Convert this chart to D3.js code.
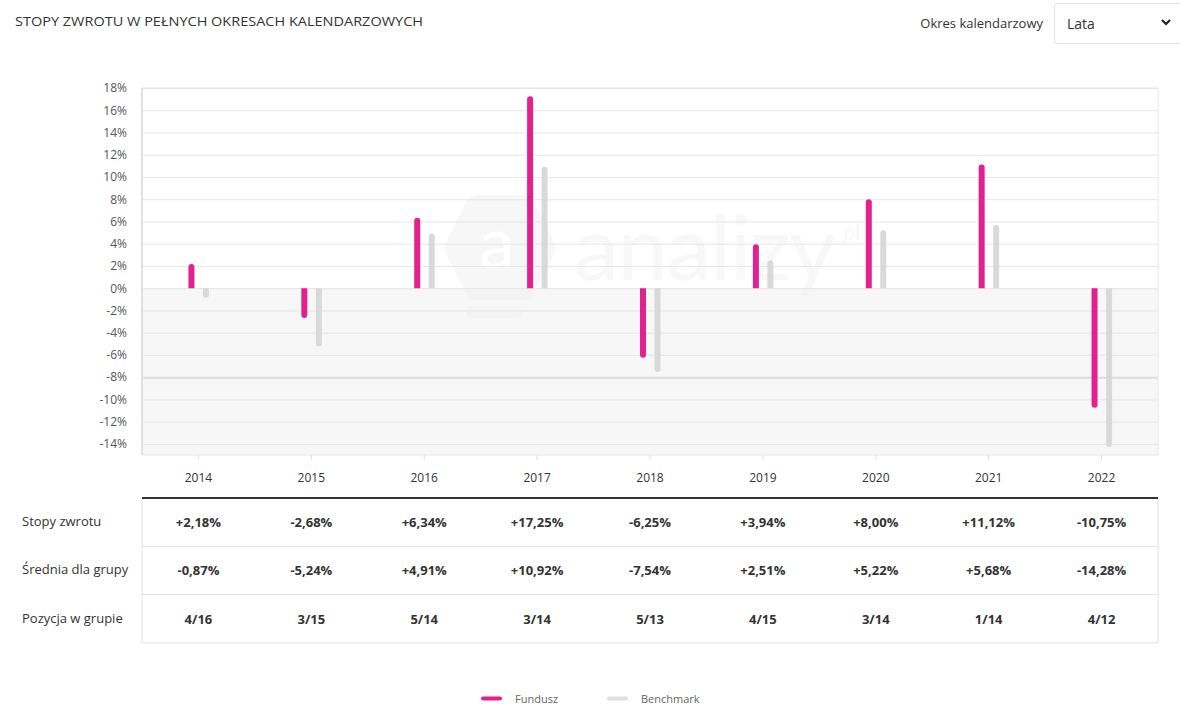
<!DOCTYPE html>
<html><head><meta charset="utf-8">
<script src="https://cdn.jsdelivr.net/npm/d3@7"></script>
<style>
body{margin:0;background:#fff;font-family:"Open Sans",Arial,sans-serif;}
svg{display:block}
</style></head>
<body>
<svg id="chart" width="1180" height="715"></svg>
<script>
const years = ["2014","2015","2016","2017","2018","2019","2020","2021","2022"];
const fundValues = [2.18,-2.68,6.34,17.25,-6.25,3.94,8.00,11.12,-10.75];
const groupAvg = [-0.87,-5.24,4.91,10.92,-7.54,2.51,5.22,5.68,-14.28];
const positions = ["4/16","3/15","5/14","3/14","5/13","4/15","3/14","1/14","4/12"];
const yTicks = [-14,-12,-10,-8,-6,-4,-2,0,2,4,6,8,10,12,14,16,18];
const rowLabels = ["Stopy zwrotu","Średnia dla grupy","Pozycja w grupie"];
const seriesNames = ["Fundusz","Benchmark"];

const PINK = "#e2208e", GREY = "#d9d9d9";
const svg = d3.select("#chart");
const L = 142, R = 1158, T = 88, B = 455;

const x = d3.scaleBand().domain(years).range([L, R]);
const y = d3.scaleLinear().domain([-15, 18]).range([B, T]);

// title
svg.append("text").attr("x", 15).attr("y", 26).text("STOPY ZWROTU W PEŁNYCH OKRESACH KALENDARZOWYCH")
  .attr("font-size", 13.5).attr("fill", "#333").attr("textLength", 408).attr("lengthAdjust", "spacingAndGlyphs")
  .attr("font-family", "'Open Sans',sans-serif");

// dropdown
svg.append("text").attr("x", 1043).attr("y", 28).attr("text-anchor", "end").text("Okres kalendarzowy")
  .attr("font-size", 13).attr("fill", "#333");
svg.append("rect").attr("x", 1054.5).attr("y", 3.5).attr("width", 140).attr("height", 40).attr("rx", 3)
  .attr("fill", "#fff").attr("stroke", "#e2e2e2");
svg.append("text").attr("x", 1067).attr("y", 29).text("Lata").attr("font-size", 14).attr("fill", "#333");
svg.append("path").attr("d", "M1162,20 L1166,24 L1170,20").attr("fill", "none").attr("stroke", "#222").attr("stroke-width", 2.2);

// negative background
svg.append("rect").attr("x", L).attr("y", y(0)).attr("width", R - L).attr("height", B - y(0)).attr("fill", "#f7f7f7");

// watermark
const wm = svg.append("g").attr("opacity", 0.5);
wm.append("path").attr("d", "M478,195 L522,195 Q530,195 534,202 L553,240 Q557,248 553,256 L534,293 Q530,300 522,300 L478,300 Q470,300 466,293 L447,256 Q443,248 447,240 L466,202 Q470,195 478,195 Z").attr("fill", "#f1f1f1");
wm.append("rect").attr("x", 466).attr("y", 306).attr("width", 56).attr("height", 12).attr("rx", 6).attr("fill", "#f1f1f1");
wm.append("text").attr("x", 497).attr("y", 268).attr("text-anchor", "middle").text("a")
  .attr("font-size", 72).attr("fill", "#fff").attr("font-family", "Lato,sans-serif");
wm.append("text").attr("x", 574).attr("y", 280).text("analizy").attr("textLength", 262)
  .attr("font-size", 90).attr("fill", "#f2f2f2").attr("font-family", "Lato,sans-serif");
wm.append("text").attr("x", 843).attr("y", 240).text("pl")
  .attr("font-size", 22).attr("fill", "#f2f2f2").attr("font-family", "Lato,sans-serif");

// gridlines
const grid = svg.append("g").attr("transform", `translate(${L},0)`)
  .call(d3.axisLeft(y).tickValues(yTicks).tickSize(-(R - L)).tickFormat(""));
grid.select(".domain").remove();
grid.selectAll(".tick line").attr("stroke", d => d === -8 ? "#dcdcdc" : "#e6e6e6").attr("stroke-width", d => d === -8 ? 2 : 1);

// borders
svg.append("line").attr("x1", L).attr("x2", R).attr("y1", T).attr("y2", T).attr("stroke", "#e6e6e6");
svg.append("line").attr("x1", L).attr("x2", L).attr("y1", T).attr("y2", B).attr("stroke", "#e0e0e0").attr("stroke-width", 2);
svg.append("line").attr("x1", R).attr("x2", R).attr("y1", T).attr("y2", B).attr("stroke", "#e6e6e6");
svg.append("line").attr("x1", L).attr("x2", R).attr("y1", B).attr("y2", B).attr("stroke", "#e6e6e6");

// y axis labels
const ya = svg.append("g").attr("transform", `translate(${L - 12},0)`)
  .call(d3.axisLeft(y).tickValues(yTicks).tickSize(0).tickFormat(d => d + "%"));
ya.select(".domain").remove();
ya.selectAll("text").attr("font-size", 12).attr("fill", "#555").attr("font-family", "'Open Sans',sans-serif");

// x axis
const xa = svg.append("g").attr("transform", `translate(0,${B})`)
  .call(d3.axisBottom(x).tickSize(5).tickPadding(13));
xa.select(".domain").remove();
xa.selectAll(".tick line").attr("stroke", "#e0e0e0");
xa.selectAll("text").attr("font-size", 12).attr("fill", "#333").attr("font-family", "'Open Sans',sans-serif");

// bars
function barPath(cx, v, w) {
  const y0 = y(0), y1 = y(v), r = w / 2;
  const xl = cx - r, xr = cx + r;
  if (v >= 0) {
    return `M${xl},${y0} L${xl},${y1 + r} A${r},${r} 0 0 1 ${xr},${y1 + r} L${xr},${y0} Z`;
  } else {
    return `M${xl},${y0} L${xl},${y1 - r} A${r},${r} 0 0 0 ${xr},${y1 - r} L${xr},${y0} Z`;
  }
}
const cx = d => x(d) + x.bandwidth() / 2;
svg.append("g").selectAll("path").data(years).join("path")
  .attr("d", (d, i) => barPath(cx(d) - 7, fundValues[i], 6)).attr("fill", PINK);
svg.append("g").selectAll("path").data(years).join("path")
  .attr("d", (d, i) => barPath(cx(d) + 7.5, groupAvg[i], 6)).attr("fill", GREY);

// table
const fmt = v => (v > 0 ? "+" : "") + v.toFixed(2).replace(".", ",") + "%";
const rows = [fundValues.map(fmt), groupAvg.map(fmt), positions];
const tTop = 498, rowH = 48.3;
const tab = svg.append("g");
for (let r = 1; r <= 3; r++) {
  tab.append("line").attr("x1", L).attr("x2", R).attr("y1", tTop + r * rowH).attr("y2", tTop + r * rowH)
    .attr("stroke", "#e2e2e2");
}
tab.append("line").attr("x1", L).attr("x2", L).attr("y1", tTop).attr("y2", tTop + 3 * rowH).attr("stroke", "#e2e2e2");
tab.append("line").attr("x1", R).attr("x2", R).attr("y1", tTop).attr("y2", tTop + 3 * rowH).attr("stroke", "#e2e2e2");
tab.append("line").attr("x1", L).attr("x2", R).attr("y1", tTop).attr("y2", tTop).attr("stroke", "#333").attr("stroke-width", 2);
rowLabels.forEach((lab, r) => {
  const yy = tTop + r * rowH + rowH / 2 + 4;
  tab.append("text").attr("x", 22).attr("y", yy).text(lab).attr("font-size", 13).attr("fill", "#333");
  tab.append("g").selectAll("text").data(years).join("text")
    .attr("x", d => cx(d)).attr("y", yy + 1).attr("text-anchor", "middle")
    .text((d, i) => rows[r][i]).attr("font-size", 13).attr("font-weight", "bold").attr("fill", "#333");
});

// legend
const legendX = [481, 607];
const legendColors = [PINK, "#e0e0e0"];
seriesNames.forEach((n, i) => {
  svg.append("line").attr("x1", legendX[i] + 2).attr("x2", legendX[i] + 19).attr("y1", 698.5).attr("y2", 698.5)
    .attr("stroke", legendColors[i]).attr("stroke-width", 4).attr("stroke-linecap", "round");
  svg.append("text").attr("x", legendX[i] + 34).attr("y", 703).text(n).attr("font-size", 11).attr("fill", "#666");
});
</script>
</body></html>
